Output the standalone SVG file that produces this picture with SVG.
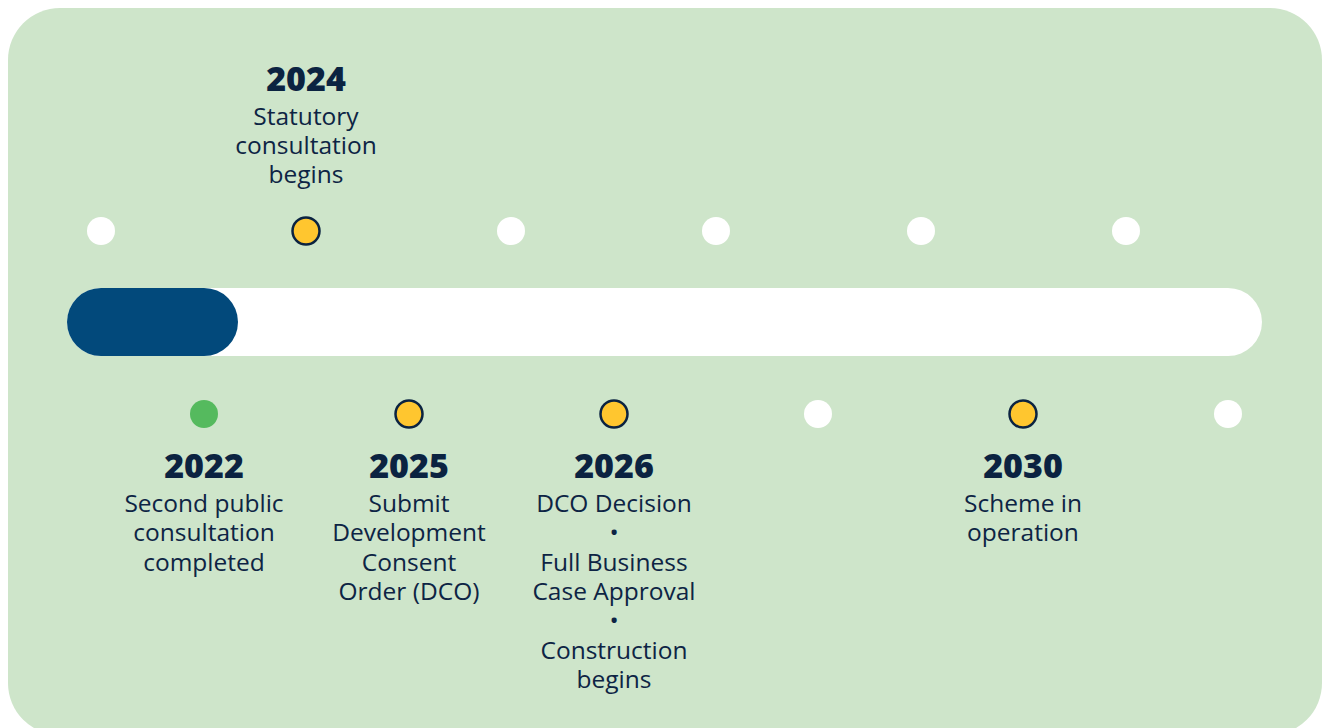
<svg xmlns="http://www.w3.org/2000/svg" width="1324" height="728" viewBox="0 0 1324 728">
<style>
.yr{font-family:"Open Sans","Liberation Sans",sans-serif;font-weight:800;font-size:34px;fill:#0B2341;text-anchor:middle}
.tx{font-family:"Open Sans","Liberation Sans",sans-serif;font-weight:400;font-size:24.5px;fill:#0D2444;text-anchor:middle}
.dw{fill:#FFFFFF}
.dy{fill:#FFC62F;stroke:#0B2341;stroke-width:2.5}
.dg{fill:#55BA5E}
</style>
<rect x="0" y="0" width="1324" height="728" fill="#FFFFFF"/>
<rect x="8" y="8" width="1314" height="727" rx="52" ry="52" fill="#CEE5CA"/>
<g id="track">
<rect x="67" y="288" width="1195" height="68" rx="34" ry="34" fill="#FFFFFF"/>
<rect x="67" y="288" width="171" height="68" rx="34" ry="34" fill="#02497B"/>
</g>
<g id="top-dots">
<circle class="dw" cx="101" cy="231" r="14"/>
<circle class="dw" cx="511" cy="231" r="14"/>
<circle class="dw" cx="716" cy="231" r="14"/>
<circle class="dw" cx="921" cy="231" r="14"/>
<circle class="dw" cx="1126" cy="231" r="14"/>
</g>
<g id="bottom-dots">
<circle class="dw" cx="818" cy="414" r="14"/>
<circle class="dw" cx="1228" cy="414" r="14"/>
</g>
<g id="m2024">
<circle class="dy" cx="306" cy="231" r="13.5"/>
<text class="yr" x="306" y="90.5">2024</text>
<text class="tx" x="306" y="125">Statutory</text>
<text class="tx" x="306" y="154">consultation</text>
<text class="tx" x="306" y="183">begins</text>
</g>
<g id="m2022">
<circle class="dg" cx="204" cy="414" r="14"/>
<text class="yr" x="204" y="478">2022</text>
<text class="tx" x="204" y="512">Second public</text>
<text class="tx" x="204" y="541.3">consultation</text>
<text class="tx" x="204" y="570.6">completed</text>
</g>
<g id="m2025">
<circle class="dy" cx="409" cy="414" r="13.5"/>
<text class="yr" x="409" y="478">2025</text>
<text class="tx" x="409" y="512">Submit</text>
<text class="tx" x="409" y="541.3">Development</text>
<text class="tx" x="409" y="570.6">Consent</text>
<text class="tx" x="409" y="599.9">Order (DCO)</text>
</g>
<g id="m2026">
<circle class="dy" cx="614" cy="414" r="13.5"/>
<text class="yr" x="614" y="478">2026</text>
<text class="tx" x="614" y="512">DCO Decision</text>
<text class="tx" x="614" y="541.3">•</text>
<text class="tx" x="614" y="570.6">Full Business</text>
<text class="tx" x="614" y="599.9">Case Approval</text>
<text class="tx" x="614" y="629.2">•</text>
<text class="tx" x="614" y="658.5">Construction</text>
<text class="tx" x="614" y="687.8">begins</text>
</g>
<g id="m2030">
<circle class="dy" cx="1023" cy="414" r="13.5"/>
<text class="yr" x="1023" y="478">2030</text>
<text class="tx" x="1023" y="512">Scheme in</text>
<text class="tx" x="1023" y="541.3">operation</text>
</g>
</svg>
